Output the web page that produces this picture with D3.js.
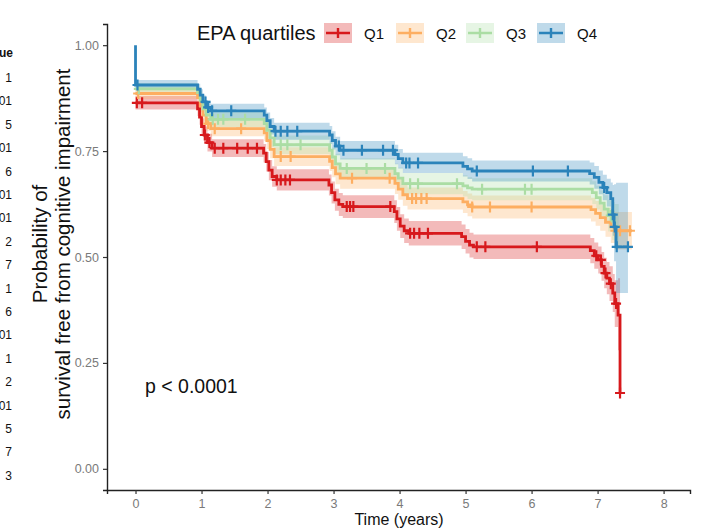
<!DOCTYPE html>
<html>
<head>
<meta charset="utf-8">
<script src="https://cdn.jsdelivr.net/npm/d3@7"></script>
<style>
  body { margin: 0; background: #fff; }
  text { font-family: "Liberation Sans", Arial, sans-serif; }
</style>
</head>
<body>
<div id="my_dataviz"></div>
<script>
// groups and colours
var groups = ["Q1", "Q2", "Q3", "Q4"];
var colors = ["#d7191c", "#fdae61", "#abdda4", "#2b83ba"];

// Kaplan-Meier steps: [time, surv, lower, upper]
var q1 = [
  [0, 0.864, 0.848, 0.880], [0.94, 0.850, 0.833, 0.867], [0.97, 0.830, 0.812, 0.848],
  [1.00, 0.808, 0.789, 0.827], [1.04, 0.788, 0.768, 0.808], [1.09, 0.770, 0.749, 0.791],
  [1.16, 0.757, 0.736, 0.778], [1.94, 0.745, 0.723, 0.767], [1.98, 0.725, 0.702, 0.748],
  [2.02, 0.705, 0.681, 0.729], [2.07, 0.690, 0.666, 0.714], [2.14, 0.682, 0.657, 0.707],
  [2.93, 0.670, 0.645, 0.695], [2.97, 0.652, 0.626, 0.678], [3.02, 0.635, 0.609, 0.661],
  [3.08, 0.624, 0.597, 0.651], [3.14, 0.619, 0.592, 0.646], [3.92, 0.607, 0.580, 0.634],
  [3.96, 0.590, 0.562, 0.618], [4.01, 0.573, 0.545, 0.601], [4.07, 0.562, 0.533, 0.591],
  [4.14, 0.556, 0.527, 0.585], [4.94, 0.548, 0.519, 0.577], [5.00, 0.537, 0.508, 0.566],
  [5.06, 0.528, 0.499, 0.557], [5.12, 0.524, 0.495, 0.553], [6.89, 0.515, 0.485, 0.545],
  [6.95, 0.503, 0.472, 0.534], [7.01, 0.493, 0.461, 0.525], [7.06, 0.478, 0.444, 0.512],
  [7.10, 0.462, 0.426, 0.498], [7.14, 0.450, 0.412, 0.488], [7.18, 0.437, 0.396, 0.478],
  [7.23, 0.415, 0.370, 0.460], [7.26, 0.390, 0.335, 0.445], [7.31, 0.363, 0.280, 0.450],
  [7.34, 0.179, 0.179, 0.179]
];
var q2 = [
  [0, 0.886, 0.873, 0.899], [0.94, 0.876, 0.862, 0.890], [0.98, 0.857, 0.842, 0.872],
  [1.02, 0.835, 0.819, 0.851], [1.07, 0.815, 0.798, 0.832], [1.14, 0.803, 0.785, 0.821],
  [1.95, 0.793, 0.774, 0.812], [1.99, 0.775, 0.755, 0.795], [2.04, 0.754, 0.733, 0.775],
  [2.10, 0.737, 0.715, 0.759], [2.94, 0.726, 0.703, 0.749], [2.98, 0.711, 0.688, 0.734],
  [3.03, 0.696, 0.672, 0.720], [3.10, 0.686, 0.661, 0.711], [3.93, 0.674, 0.649, 0.699],
  [3.98, 0.660, 0.635, 0.685], [4.05, 0.647, 0.621, 0.673], [4.12, 0.638, 0.612, 0.664],
  [4.96, 0.630, 0.604, 0.656], [5.03, 0.623, 0.596, 0.650], [5.10, 0.618, 0.591, 0.645],
  [6.90, 0.612, 0.584, 0.640], [6.97, 0.603, 0.574, 0.632], [7.04, 0.593, 0.562, 0.624],
  [7.12, 0.582, 0.548, 0.616], [7.20, 0.571, 0.533, 0.609], [7.26, 0.562, 0.518, 0.606],
  [7.52, 0.562, 0.518, 0.606]
];
var q3 = [
  [0, 0.897, 0.884, 0.910], [0.94, 0.888, 0.874, 0.902], [0.98, 0.870, 0.855, 0.885],
  [1.02, 0.850, 0.834, 0.866], [1.07, 0.835, 0.818, 0.852], [1.14, 0.825, 0.807, 0.843],
  [1.95, 0.815, 0.796, 0.834], [1.99, 0.799, 0.779, 0.819], [2.04, 0.781, 0.760, 0.802],
  [2.10, 0.765, 0.743, 0.787], [2.94, 0.752, 0.730, 0.774], [2.98, 0.736, 0.713, 0.759],
  [3.03, 0.720, 0.697, 0.744], [3.10, 0.709, 0.685, 0.733], [3.93, 0.697, 0.673, 0.721],
  [3.98, 0.686, 0.661, 0.711], [4.05, 0.673, 0.648, 0.698], [4.96, 0.668, 0.643, 0.693],
  [5.03, 0.663, 0.637, 0.689], [5.10, 0.660, 0.634, 0.686], [6.92, 0.652, 0.625, 0.679],
  [6.98, 0.640, 0.612, 0.668], [7.04, 0.627, 0.597, 0.657], [7.10, 0.613, 0.580, 0.646],
  [7.16, 0.598, 0.560, 0.636], [7.22, 0.585, 0.540, 0.630], [7.26, 0.572, 0.520, 0.625],
  [7.32, 0.572, 0.520, 0.625]
];
var q4 = [
  [0, 1.000, 1.000, 1.000], [0, 0.906, 0.894, 0.918], [0.94, 0.896, 0.883, 0.909],
  [0.98, 0.882, 0.868, 0.896], [1.02, 0.866, 0.851, 0.881], [1.07, 0.853, 0.837, 0.869],
  [1.14, 0.845, 0.828, 0.862], [1.95, 0.835, 0.817, 0.853], [1.99, 0.822, 0.803, 0.841],
  [2.04, 0.808, 0.789, 0.828], [2.10, 0.797, 0.777, 0.817], [2.94, 0.788, 0.767, 0.809],
  [2.98, 0.775, 0.754, 0.797], [3.03, 0.762, 0.740, 0.784], [3.10, 0.752, 0.730, 0.774],
  [3.93, 0.742, 0.719, 0.765], [3.98, 0.732, 0.709, 0.755], [4.05, 0.722, 0.698, 0.746],
  [4.96, 0.714, 0.690, 0.738], [5.03, 0.708, 0.684, 0.733], [5.10, 0.703, 0.678, 0.728],
  [6.88, 0.697, 0.671, 0.723], [6.95, 0.688, 0.661, 0.715], [7.02, 0.676, 0.648, 0.704],
  [7.08, 0.664, 0.634, 0.694], [7.14, 0.652, 0.619, 0.685], [7.20, 0.638, 0.600, 0.676],
  [7.23, 0.600, 0.550, 0.670], [7.25, 0.571, 0.490, 0.672], [7.28, 0.524, 0.415, 0.675],
  [7.46, 0.524, 0.415, 0.675]
];

// censoring times
var cens1 = [0.02, 0.1, 1.05, 1.12, 1.2, 1.33, 1.54, 1.7, 1.84, 2.14, 2.2, 2.27, 2.34, 3.2, 3.25, 3.3,
             3.86, 4.16, 4.22, 4.3, 4.43, 5.17, 5.3, 6.08, 6.98, 7.05, 7.12, 7.2, 7.28, 7.34];
var cens2 = [0.04, 1.1, 1.2, 1.6, 2.2, 2.35, 3.28, 3.85, 4.19, 4.25, 4.33, 4.41, 5.1, 5.37, 6.0,
             7.27, 7.34, 7.49];
var cens3 = [0.05, 1.17, 1.25, 1.33, 1.66, 2.2, 2.3, 2.5, 3.2, 3.5, 3.78, 4.16, 4.28, 4.87, 5.25,
             5.9, 6.0, 7.2];
var cens4 = [0.03, 1.06, 1.1, 1.16, 1.45, 2.12, 2.2, 2.3, 2.45, 3.08, 3.15, 3.43, 3.75, 3.9, 4.1,
             4.15, 4.28, 5.17, 6.02, 6.55, 7.1, 7.23, 7.26, 7.29, 7.46];

var curves = [q1, q2, q3, q4];
var censors = [cens1, cens2, cens3, cens4];

var xTicks = [0, 1, 2, 3, 4, 5, 6, 7, 8];
var yTicks = [0, 0.25, 0.5, 0.75, 1];

// clipped column from a neighbouring table
var sideHeader = "ue";
var sideValues = ["1", "01", "5", "01", "6", "01", "01", "2", "7", "1", "6", "01", "1", "2", "01", "5", "7", "3"];

var width = 701, height = 528;

var svg = d3.select("#my_dataviz")
  .append("svg")
    .attr("width", width)
    .attr("height", height);

var x = d3.scaleLinear().domain([-0.432, 8.4]).range([107, 690]);
var y = d3.scaleLinear().domain([-0.05, 1.05]).range([490, 24]);

// bands
var area = d3.area()
  .curve(d3.curveStepAfter)
  .x(d => x(d[0]))
  .y0(d => y(d[2]))
  .y1(d => y(d[3]));

var line = d3.line()
  .curve(d3.curveStepAfter)
  .x(d => x(d[0]))
  .y(d => y(d[1]));

curves.forEach(function(c, i) {
  svg.append("path")
    .datum(c)
    .attr("fill", colors[i])
    .attr("fill-opacity", 0.3)
    .attr("d", area);
});

var bis = d3.bisector(d => d[0]).right;

curves.forEach(function(c, i) {
  svg.append("path")
    .datum(c)
    .attr("fill", "none")
    .attr("stroke", colors[i])
    .attr("stroke-width", 2.8)
    .attr("d", line);

  svg.append("g").selectAll("path")
    .data(censors[i])
    .join("path")
      .attr("d", function(t) {
        var k = Math.max(0, bis(c, t) - 1);
        var px = x(t), py = y(c[k][1]);
        return "M" + (px - 5) + "," + py + "H" + (px + 5) + "M" + px + "," + (py - 5.5) + "V" + (py + 5.5);
      })
      .attr("stroke", colors[i])
      .attr("stroke-width", 2.2)
      .attr("fill", "none");
});

// axes
var yAxis = svg.append("g")
  .attr("transform", "translate(107,0)")
  .call(d3.axisLeft(y).tickValues(yTicks).tickFormat(d3.format(".2f")).tickSizeOuter(0).tickSize(4).tickPadding(4));
var xAxis = svg.append("g")
  .attr("transform", "translate(0,490)")
  .call(d3.axisBottom(x).tickValues(xTicks).tickFormat(d3.format("d")).tickSizeOuter(0).tickSize(4).tickPadding(5));

[yAxis, xAxis].forEach(function(a) {
  a.select(".domain").attr("stroke", "#222").attr("stroke-width", 1.4);
  a.selectAll(".tick line").attr("stroke", "#333").attr("stroke-width", 1.2);
  a.selectAll(".tick text").attr("fill", "#7a7a7a").style("font-size", "12.5px")
    .style("font-family", "'Liberation Sans', Arial, sans-serif");
});

// axis titles
svg.append("text")
  .attr("x", 399).attr("y", 525)
  .attr("text-anchor", "middle")
  .style("font-size", "16px")
  .attr("fill", "#111")
  .text("Time (years)");

var yTitle = svg.append("text")
  .attr("transform", "translate(0,244) rotate(-90)")
  .attr("text-anchor", "middle")
  .style("font-size", "20.5px")
  .attr("fill", "#111");
yTitle.append("tspan").attr("x", 0).attr("y", 47).text("Probability of");
yTitle.append("tspan").attr("x", 0).attr("y", 70).text("survival free from cognitive impairment");

// p value
svg.append("text")
  .attr("x", 145).attr("y", 393)
  .style("font-size", "19.5px")
  .attr("fill", "#111")
  .text("p < 0.0001");

// legend
svg.append("text")
  .attr("x", 197).attr("y", 40)
  .style("font-size", "20px")
  .attr("fill", "#111")
  .text("EPA quartiles");

var keyX = [324, 396, 466, 537];
groups.forEach(function(g, i) {
  var kx = keyX[i], ky = 23, kw = 28, kh = 20;
  svg.append("rect")
    .attr("x", kx).attr("y", ky).attr("width", kw).attr("height", kh)
    .attr("fill", colors[i]).attr("fill-opacity", 0.3);
  svg.append("path")
    .attr("d", "M" + (kx + 2) + "," + (ky + kh / 2) + "H" + (kx + kw - 2) +
               "M" + (kx + kw / 2) + "," + (ky + kh / 2 - 5) + "V" + (ky + kh / 2 + 5))
    .attr("stroke", colors[i]).attr("stroke-width", 2.4);
  svg.append("text")
    .attr("x", kx + kw + 12).attr("y", ky + kh / 2 + 5.5)
    .style("font-size", "15px")
    .attr("fill", "#111")
    .text(g);
});

// clipped side column
svg.append("text")
  .attr("x", 13).attr("y", 57)
  .attr("text-anchor", "end")
  .style("font-size", "12px")
  .style("font-weight", "bold")
  .attr("fill", "#111")
  .text(sideHeader);
svg.append("g").selectAll("text")
  .data(sideValues)
  .join("text")
    .attr("x", 12)
    .attr("y", (d, i) => 82 + i * 23.4)
    .attr("text-anchor", "end")
    .style("font-size", "12px")
    .attr("fill", "#111")
    .text(d => d);
</script>
</body>
</html>
